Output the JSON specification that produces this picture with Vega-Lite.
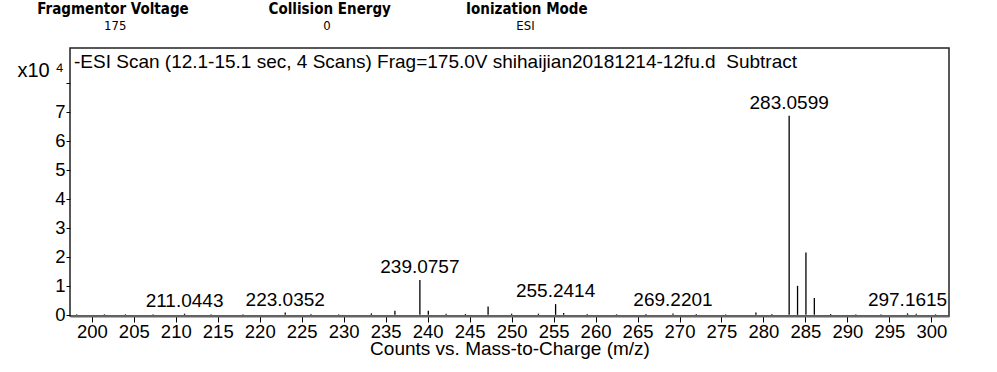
{
  "$schema": "https://vega.github.io/schema/vega-lite/v6.json",
  "padding": {"left": 16, "top": 2, "right": 49, "bottom": 5},
  "background": "white",
  "title": {
    "text": "Fragmentor Voltage\u00a0\u00a0\u00a0\u00a0\u00a0\u00a0\u00a0\u00a0\u00a0\u00a0\u00a0\u00a0\u00a0\u00a0\u00a0\u00a0\u00a0Collision Energy\u00a0\u00a0\u00a0\u00a0\u00a0\u00a0\u00a0\u00a0\u00a0\u00a0\u00a0\u00a0\u00a0\u00a0\u00a0\u00a0Ionization Mode",
    "subtitle": "\u200b\u00a0\u00a0\u00a0\u00a0\u00a0\u00a0\u00a0\u00a0\u00a0\u00a0\u00a0\u00a0\u00a0\u00a0\u00a0\u00a0\u00a0\u00a0175\u00a0\u00a0\u00a0\u00a0\u00a0\u00a0\u00a0\u00a0\u00a0\u00a0\u00a0\u00a0\u00a0\u00a0\u00a0\u00a0\u00a0\u00a0\u00a0\u00a0\u00a0\u00a0\u00a0\u00a0\u00a0\u00a0\u00a0\u00a0\u00a0\u00a0\u00a0\u00a0\u00a0\u00a0\u00a0\u00a0\u00a0\u00a0\u00a0\u00a0\u00a0\u00a0\u00a0\u00a0\u00a0\u00a0\u00a0\u00a0\u00a0\u00a0\u00a0\u00a0\u00a00\u00a0\u00a0\u00a0\u00a0\u00a0\u00a0\u00a0\u00a0\u00a0\u00a0\u00a0\u00a0\u00a0\u00a0\u00a0\u00a0\u00a0\u00a0\u00a0\u00a0\u00a0\u00a0\u00a0\u00a0\u00a0\u00a0\u00a0\u00a0\u00a0\u00a0\u00a0\u00a0\u00a0\u00a0\u00a0\u00a0\u00a0\u00a0\u00a0\u00a0\u00a0\u00a0\u00a0\u00a0\u00a0\u00a0\u00a0\u00a0\u00a0\u00a0ESI",
    "anchor": "start",
    "frame": "bounds",
    "dx": 21,
    "font": "DejaVu Sans Condensed",
    "fontSize": 15,
    "fontWeight": "bold",
    "color": "#000",
    "subtitleFont": "DejaVu Sans Condensed",
    "subtitleFontSize": 13,
    "subtitleColor": "#000",
    "subtitlePadding": 3,
    "offset": 14
  },
  "vconcat": [
    {
      "width": 879,
      "height": 268,
      "title": {
        "text": "-ESI Scan (12.1-15.1 sec, 4 Scans) Frag=175.0V shihaijian20181214-12fu.d\u00a0\u00a0Subtract",
        "anchor": "start",
        "frame": "group",
        "offset": -39,
        "baseline": "alphabetic",
        "dx": 4,
        "font": "Liberation Sans",
        "fontSize": 19,
        "fontWeight": "normal",
        "color": "#000"
      },
      "data": {
        "values": [
          {"mz": 198.2, "inten": 0.02},
          {"mz": 201.5, "inten": 0.02},
          {"mz": 204.0, "inten": 0.02},
          {"mz": 207.3, "inten": 0.02},
          {"mz": 211.0443, "inten": 0.04, "label": "211.0443"},
          {"mz": 214.2, "inten": 0.02},
          {"mz": 218.0, "inten": 0.02},
          {"mz": 223.0352, "inten": 0.08, "label": "223.0352"},
          {"mz": 226.1, "inten": 0.03},
          {"mz": 229.4, "inten": 0.02},
          {"mz": 233.3, "inten": 0.05},
          {"mz": 236.1, "inten": 0.14},
          {"mz": 239.0757, "inten": 1.2, "label": "239.0757"},
          {"mz": 240.08, "inten": 0.14},
          {"mz": 242.2, "inten": 0.04},
          {"mz": 244.5, "inten": 0.03},
          {"mz": 247.2, "inten": 0.29},
          {"mz": 250.0, "inten": 0.04},
          {"mz": 253.2, "inten": 0.04},
          {"mz": 255.2414, "inten": 0.37, "label": "255.2414"},
          {"mz": 256.2, "inten": 0.06},
          {"mz": 259.0, "inten": 0.03},
          {"mz": 262.5, "inten": 0.02},
          {"mz": 266.0, "inten": 0.03},
          {"mz": 269.2201, "inten": 0.05, "label": "269.2201"},
          {"mz": 272.0, "inten": 0.03},
          {"mz": 275.5, "inten": 0.02},
          {"mz": 279.1, "inten": 0.08},
          {"mz": 281.0, "inten": 0.03},
          {"mz": 283.0599, "inten": 6.86, "label": "283.0599"},
          {"mz": 284.06, "inten": 1.0},
          {"mz": 285.06, "inten": 2.15},
          {"mz": 286.06, "inten": 0.58},
          {"mz": 288.0, "inten": 0.03},
          {"mz": 291.0, "inten": 0.02},
          {"mz": 294.0, "inten": 0.02},
          {"mz": 297.1615, "inten": 0.05, "label": "297.1615"},
          {"mz": 298.2, "inten": 0.04},
          {"mz": 300.5, "inten": 0.02}
        ]
      },
      "encoding": {
        "x": {
          "field": "mz",
          "type": "quantitative",
          "scale": {"domain": [197.4, 302.1], "nice": false, "zero": false},
          "axis": {
            "values": [200, 205, 210, 215, 220, 225, 230, 235, 240, 245, 250, 255, 260, 265, 270, 275, 280, 285, 290, 295, 300],
            "title": "Counts vs. Mass-to-Charge (m/z)",
            "titleFont": "Liberation Sans",
            "titleFontSize": 19,
            "titleFontWeight": "normal",
            "titleColor": "#000",
            "titlePadding": -1,
            "labelFont": "Liberation Sans",
            "labelFontSize": 18.5,
            "labelColor": "#000",
            "labelPadding": 0,
            "labelFlush": false,
            "labelOverlap": false,
            "tickSize": 6,
            "tickColor": "#000",
            "tickWidth": 1,
            "domainColor": "#666",
            "domainWidth": 2,
            "grid": false
          }
        },
        "y": {
          "field": "inten",
          "type": "quantitative",
          "scale": {"domain": [-0.04, 9.2], "nice": false, "zero": false},
          "axis": {
            "values": [0, 1, 2, 3, 4, 5, 6, 7, 8],
            "labelExpr": "datum.value == 8 ? '' : datum.label",
            "labelOverlap": false,
            "title": "x10 \u2074",
            "titleAngle": 0,
            "titleAlign": "left",
            "titleBaseline": "alphabetic",
            "titleX": -53,
            "titleY": 28,
            "titleFont": "Liberation Sans",
            "titleFontSize": 20,
            "titleFontWeight": "normal",
            "titleColor": "#000",
            "labelFont": "Liberation Sans",
            "labelFontSize": 18.5,
            "labelColor": "#000",
            "labelPadding": 1,
            "tickSize": 4,
            "tickColor": "#000",
            "domain": false,
            "grid": false
          }
        }
      },
      "layer": [
        {
          "mark": {"type": "rule", "color": "#000", "strokeWidth": 1.3},
          "encoding": {
            "y2": {"datum": 0}
          }
        },
        {
          "transform": [{"filter": "isValid(datum.label)"}],
          "mark": {"type": "text", "baseline": "alphabetic", "dy": -7, "font": "Liberation Sans", "fontSize": 19, "color": "#000"},
          "encoding": {
            "text": {"field": "label"}
          }
        }
      ]
    }
  ],
  "config": {
    "view": {"stroke": "#222", "strokeWidth": 1.5}
  }
}
